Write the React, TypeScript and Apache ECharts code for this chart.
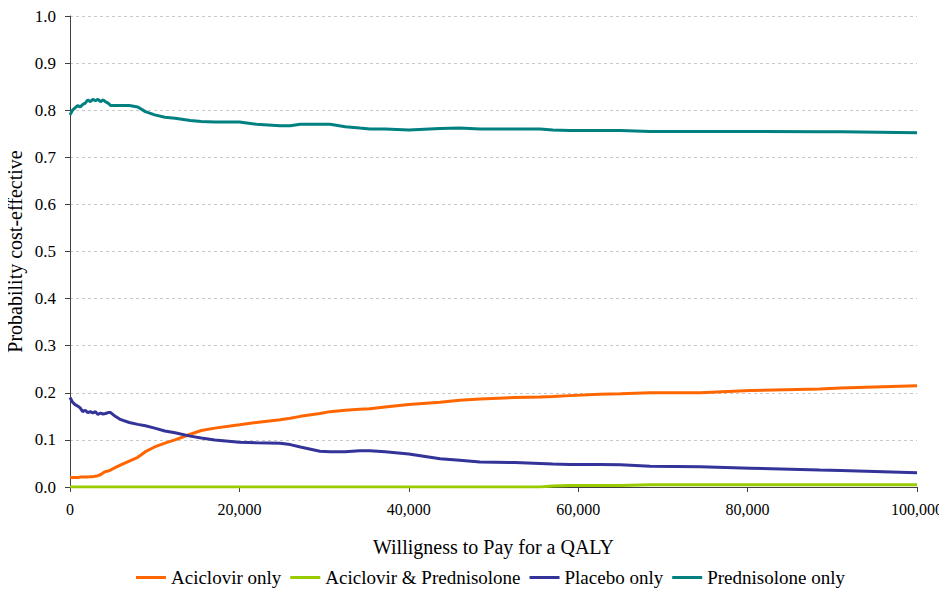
import React, { useEffect, useRef } from "react";
import * as echarts from "echarts";

const wtp = [0, 300, 600, 900, 1200, 1500, 1800, 2100, 2400, 2700, 3000, 3300, 3600, 3900, 4200, 4500, 4800, 5200, 6000, 7000, 8000, 8900, 10000, 11200, 12400, 14200, 15500, 17100, 20000, 22000, 24800, 26000, 27200, 29500, 30700, 32500, 34200, 35400, 37200, 40000, 43700, 46000, 48400, 52500, 55500, 57000, 59000, 62500, 65000, 68500, 74400, 80300, 88500, 91000, 100000];

const aciclovirOnly = [0.02, 0.02, 0.02, 0.02, 0.021, 0.021, 0.021, 0.021, 0.022, 0.022, 0.023, 0.024, 0.026, 0.03, 0.033, 0.034, 0.036, 0.04, 0.047, 0.055, 0.063, 0.075, 0.085, 0.093, 0.1, 0.112, 0.12, 0.125, 0.132, 0.137, 0.143, 0.146, 0.15, 0.156, 0.16, 0.163, 0.165, 0.166, 0.17, 0.175, 0.18, 0.184, 0.187, 0.19, 0.191, 0.192, 0.194, 0.197, 0.198, 0.2, 0.2, 0.205, 0.208, 0.21, 0.215];

const aciclovirPrednisolone = [0, 0, 0, 0, 0, 0, 0, 0, 0, 0, 0, 0, 0, 0, 0, 0, 0, 0, 0, 0, 0, 0, 0, 0, 0, 0, 0, 0, 0, 0, 0, 0, 0, 0, 0, 0, 0, 0, 0, 0, 0, 0, 0, 0, 0, 0.002, 0.003, 0.003, 0.003, 0.005, 0.005, 0.005, 0.005, 0.005, 0.005];

const placeboOnly = [0.19, 0.18, 0.175, 0.172, 0.168, 0.16, 0.163, 0.158, 0.16, 0.157, 0.16, 0.154, 0.157, 0.155, 0.156, 0.158, 0.158, 0.152, 0.143, 0.137, 0.133, 0.13, 0.125, 0.119, 0.115, 0.108, 0.104, 0.1, 0.095, 0.094, 0.093, 0.09, 0.085, 0.076, 0.075, 0.075, 0.077, 0.077, 0.075, 0.07, 0.06, 0.057, 0.053, 0.052, 0.05, 0.049, 0.048, 0.048, 0.047, 0.044, 0.043, 0.04, 0.036, 0.035, 0.03];

const prednisoloneOnly = [0.79, 0.8, 0.805, 0.81, 0.807, 0.812, 0.815, 0.822, 0.818, 0.823, 0.82, 0.823, 0.818, 0.822, 0.818, 0.815, 0.81, 0.81, 0.81, 0.81, 0.807, 0.797, 0.79, 0.785, 0.783, 0.778, 0.776, 0.775, 0.775, 0.77, 0.767, 0.767, 0.77, 0.77, 0.77, 0.765, 0.762, 0.76, 0.76, 0.758, 0.761, 0.762, 0.76, 0.76, 0.76, 0.758, 0.757, 0.757, 0.757, 0.755, 0.755, 0.755, 0.754, 0.754, 0.752];

const seriesNames = ["Aciclovir only", "Aciclovir & Prednisolone", "Placebo only", "Prednisolone only"];
const seriesColors = ["#FF6600", "#99CC00", "#333399", "#008080"];
const seriesValues = [aciclovirOnly, aciclovirPrednisolone, placeboOnly, prednisoloneOnly];

const FONT = "Liberation Serif";

export default function App() {
  const ref = useRef<HTMLDivElement>(null);
  useEffect(() => {
    if (!ref.current) return;
    const chart = echarts.init(ref.current, undefined, { renderer: "svg" });
    chart.setOption({
      animation: false,
      textStyle: { fontFamily: FONT },
      grid: { left: 70, right: 30, top: 16, bottom: 106, containLabel: false, outerBoundsMode: "none" },
      legend: {
        top: 563,
        left: 131,
        itemWidth: 30,
        itemHeight: 3,
        itemGap: 9,
        icon: "rect",
        textStyle: { fontFamily: FONT, fontSize: 19, color: "#000" },
        data: seriesNames,
      },
      xAxis: {
        type: "value",
        min: 0,
        max: 100000,
        interval: 20000,
        name: "Willigness to Pay for a QALY",
        nameLocation: "middle",
        nameGap: 50,
        nameMoveOverlap: false,
        nameTextStyle: { fontFamily: FONT, fontSize: 20, color: "#000" },
        axisLine: { lineStyle: { color: "#404040", width: 1 } },
        axisTick: { show: true, length: 5, lineStyle: { color: "#404040" } },
        axisLabel: {
          fontFamily: FONT,
          fontSize: 16,
          color: "#000",
          margin: 14,
          formatter: (v: number) => v.toLocaleString("en-US"),
        },
        splitLine: { show: false },
      },
      yAxis: {
        type: "value",
        min: 0,
        max: 1,
        interval: 0.1,
        name: "Probability cost-effective",
        nameLocation: "middle",
        nameGap: 45,
        nameMoveOverlap: false,
        nameTextStyle: { fontFamily: FONT, fontSize: 20, color: "#000" },
        axisLine: { show: true, lineStyle: { color: "#404040", width: 1 } },
        axisTick: { show: true, length: 5, lineStyle: { color: "#404040" } },
        axisLabel: {
          fontFamily: FONT,
          fontSize: 17,
          color: "#000",
          margin: 14,
          formatter: (v: number) => v.toFixed(1),
        },
        splitLine: { show: true, lineStyle: { color: "#c8c8c8", type: [3, 3], width: 1 } },
      },
      series: seriesNames.map((name, i) => ({
        name,
        type: "line",
        showSymbol: false,
        symbol: "none",
        color: seriesColors[i],
        lineStyle: { width: 3, color: seriesColors[i] },
        data: wtp.map((x, j) => [x, seriesValues[i][j]]),
        z: i === 1 ? 1 : 2,
      })),
    });
    return () => chart.dispose();
  }, []);
  return <div ref={ref} style={{ width: 947, height: 593, margin: "-8px 0 0 -8px" }} />;
}
